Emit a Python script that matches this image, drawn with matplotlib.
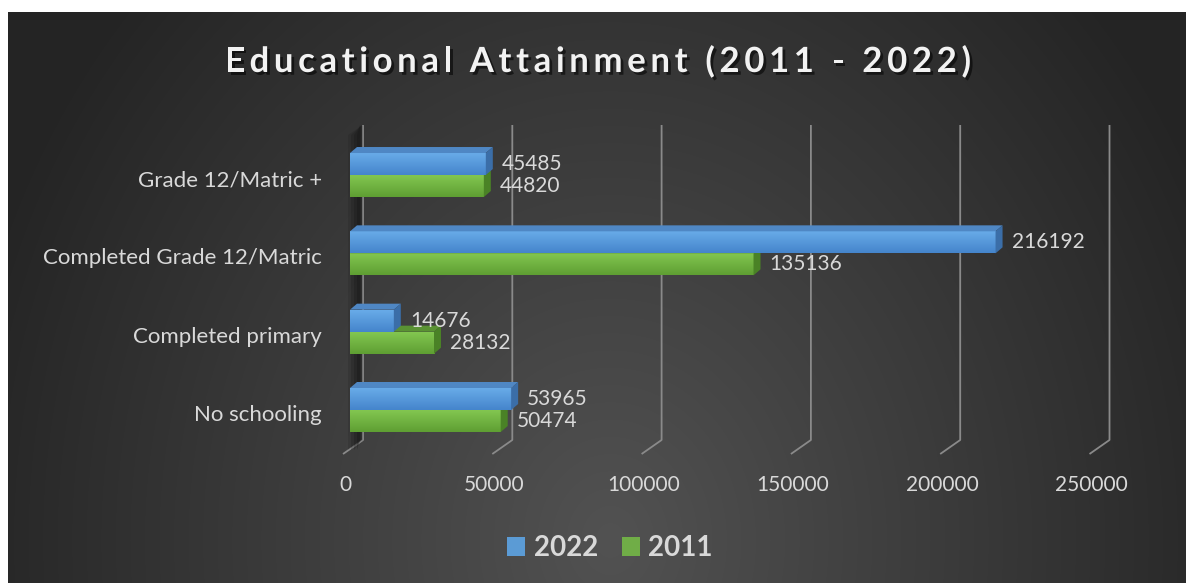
import numpy as np
import matplotlib.pyplot as plt
from matplotlib.patches import Polygon, Patch
import matplotlib.patheffects as pe

plt.rcParams['font.family'] = ['Lato', 'DejaVu Sans']

categories = ['No schooling', 'Completed primary', 'Completed Grade 12/Matric', 'Grade 12/Matric +']
vals_2022 = [53965, 14676, 216192, 45485]
vals_2011 = [50474, 28132, 135136, 44820]
ticks = [0, 50000, 100000, 150000, 200000, 250000]
series_names = ['2022', '2011']
title = 'Educational Attainment (2011 - 2022)'

W, H = 1186, 583
fig = plt.figure(figsize=(W / 100, H / 100), dpi=100, facecolor='white')

# dark radial background of the chart area (white margin left/top)
bg = fig.add_axes([8 / W, 0, 1 - 8 / W, 1 - 12 / H])
yy, xx = np.mgrid[12:H, 8:W]
r = np.sqrt(((xx - 610) / 640) ** 2 + ((yy - 540) / 760) ** 2)
shade = np.clip(82 - 44 * r, 36, 82) / 255
bg.imshow(np.dstack([shade] * 3), aspect='auto', interpolation='bilinear')
bg.axis('off')

# plot area: x=0 at px 350, 250000 at px 1096.5; category centres 78.3 px apart
x0_px, x_span_px = 350, 746.5
top_px, bot_px = 100, 470
cat0_px, step_px = 410, 78.33
ax = fig.add_axes([x0_px / W, 1 - bot_px / H, x_span_px / W, (bot_px - top_px) / H])
ax.axis('off')

px_x = 250000 / x_span_px      # data units per pixel, x
px_y = 1 / step_px              # data units per pixel, y


def ypx(p):
    return (cat0_px - p) * px_y


# back wall gridlines running into the floor
grid_col = '#8a8a8a'
for t in ticks:
    ax.plot([t + 13 * px_x, t + 13 * px_x, t - 7 * px_x],
            [ypx(125), ypx(440), ypx(454)], color=grid_col, lw=1.3, zorder=1,
            solid_capstyle='butt', clip_on=False)
    ax.text(t - 5 * px_x, ypx(485), str(t), ha='center', va='center',
            color='#d9d9d9', fontsize=15, clip_on=False)

# left side wall, soft dark band
for k, a in enumerate([0.15, 0.2, 0.25, 0.3]):
    w = 15 - 3 * k
    ax.add_patch(Polygon([((13 - k) * px_x, ypx(125)), ((13 - k) * px_x, ypx(440)),
                          ((13 - w) * px_x, ypx(450)), ((13 - w) * px_x, ypx(135))],
                         closed=True, facecolor='#141414', edgecolor='none',
                         alpha=a, zorder=1.5, clip_on=False))

bar_h = 22 * px_y
ddx, ddy = 7 * px_x, 6 * px_y
styles = {
    '2022': dict(top='#68abe8', bot='#4585cc', lid='#4f87c4', side='#3b6ea8', off=0.0),
    '2011': dict(top='#82c650', bot='#5f9f33', lid='#5a9233', side='#4a8226', off=-bar_h),
}


def hex_rgb(c):
    return np.array([int(c[i:i + 2], 16) for i in (1, 3, 5)]) / 255


def bar3d(y0, v, st, z):
    ax.barh(y0, v, height=bar_h, left=0, align='edge', color=st['bot'], zorder=z)
    g = np.linspace(0, 1, 32)[:, None]
    img = (1 - g) * hex_rgb(st['top']) + g * hex_rgb(st['bot'])
    ax.imshow(img[:, None, :], extent=(0, v, y0, y0 + bar_h), aspect='auto',
              zorder=z + 0.1, interpolation='bilinear')
    yt = y0 + bar_h
    ax.add_patch(Polygon([(0, yt), (v, yt), (v + ddx, yt + ddy), (ddx, yt + ddy)],
                         closed=True, facecolor=st['lid'], edgecolor='none', zorder=z + 0.2))
    ax.add_patch(Polygon([(v, y0), (v, yt), (v + ddx, yt + ddy), (v + ddx, y0 + ddy)],
                         closed=True, facecolor=st['side'], edgecolor='none', zorder=z + 0.2))


for i, cat in enumerate(categories):
    for k, (name, vals) in enumerate([('2011', vals_2011), ('2022', vals_2022)]):
        st = styles[name]
        y0 = i + st['off']
        bar3d(y0, vals[i], st, 3 + k)
        ax.text(vals[i] + 16 * px_x, y0 + bar_h / 2, str(vals[i]), ha='left',
                va='center', color='#d9d9d9', fontsize=15, zorder=6)
    ax.text(-28 * px_x, i - 5 * px_y, cat, ha='right', va='center',
            color='#d9d9d9', fontsize=16, clip_on=False)

ax.set_xlim(0, 250000)
ax.set_ylim((cat0_px - bot_px) / step_px, (cat0_px - top_px) / step_px)
ax.set_aspect('auto')

# title with extra letter spacing, laid out one glyph at a time
renderer = fig.canvas.get_renderer()
tkw = dict(fontsize=25, fontweight='bold', color='#f2f2f2', va='center', ha='left')
shadow = [pe.withSimplePatchShadow(offset=(2, -2), shadow_rgbFace='black', alpha=0.55)]


def text_width(s):
    t = fig.text(0, 0, s, **tkw)
    w = t.get_window_extent(renderer).width
    t.remove()
    return w


gap = 4.6
total = text_width(title) + gap * (len(title) - 1)
x_start = 598 - total / 2
for k, ch in enumerate(title):
    if ch == ' ':
        continue
    x = x_start + (text_width(title[:k]) if k else 0) + gap * k
    fig.text(x / W, 1 - 62 / H, ch, path_effects=shadow, **tkw)

handles = [Patch(facecolor='#5b9bd5'), Patch(facecolor='#70ad47')]
fig.legend(handles, series_names, loc='center', bbox_to_anchor=(610 / W, 1 - 548 / H),
           ncol=2, frameon=False, prop={'weight': 'bold', 'size': 20}, labelcolor='#d9d9d9',
           handlelength=0.65, handleheight=0.68, handletextpad=0.3, columnspacing=0.85)

fig.savefig('out.png', dpi=100, facecolor='white')
